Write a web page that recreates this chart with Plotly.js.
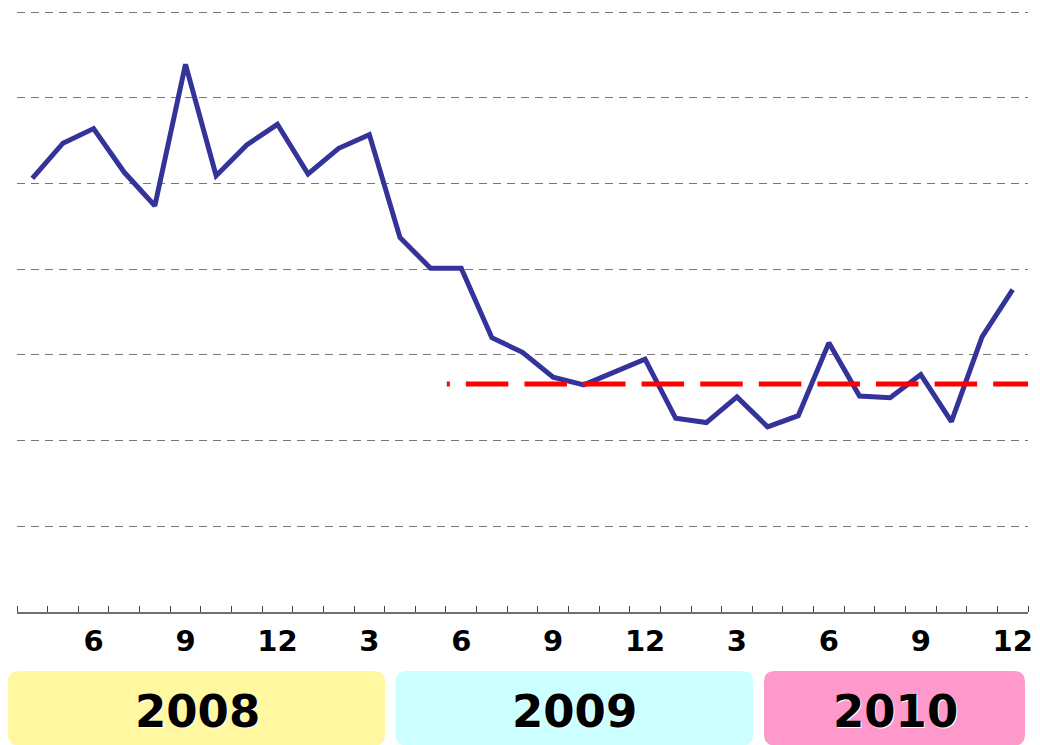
<!DOCTYPE html>
<html>
<head>
<meta charset="utf-8">
<script src="https://cdn.plot.ly/plotly-3.0.1.min.js"></script>
<style>
  html, body { margin: 0; padding: 0; background: #ffffff; }
  #chart { width: 1040px; height: 745px; }
</style>
</head>
<body>
<div id="chart"></div>
<script>
// Months from April 2008 to December 2010 (index 0 = 2008-04)
var monthIndex = [0,1,2,3,4,5,6,7,8,9,10,11,12,13,14,15,16,17,18,19,20,21,22,23,24,25,26,27,28,29,30,31,32];
var monthLabels = ["2008-04","2008-05","2008-06","2008-07","2008-08","2008-09","2008-10","2008-11","2008-12",
                   "2009-01","2009-02","2009-03","2009-04","2009-05","2009-06","2009-07","2009-08","2009-09","2009-10","2009-11","2009-12",
                   "2010-01","2010-02","2010-03","2010-04","2010-05","2010-06","2010-07","2010-08","2010-09","2010-10","2010-11","2010-12"];
var seriesValues = [5.06,5.47,5.64,5.13,4.74,6.39,5.09,5.45,5.69,
                    5.11,5.41,5.57,4.37,4.01,4.01,3.20,3.03,2.74,2.65,2.80,2.95,
                    2.26,2.21,2.51,2.16,2.29,3.14,2.52,2.50,2.77,2.22,3.21,3.76];

// Reference (average) line
var refLineX = [13.53, 32.76];
var refLineY = [2.66, 2.66];

// Tick labels (month numbers)
var tickPositions = [2,5,8,11,14,17,20,23,26,29,32];
var tickLabels = ["6","9","12","3","6","9","12","3","6","9","12"];

// Grid levels
var gridLevels = [1,2,3,4,5,6,7];

// Year bands
var yearNames = ["2008","2009","2010"];
var yearColors = ["#FFF8A0","#CCFFFF","#FF99CC"];

// ---- layout geometry (pixels) ----
var W = 1040, H = 745;
var mL = 17, mR = 12, mT = 3, mB = 133;
var plotW = W - mL - mR, plotH = H - mT - mB;
var pxPerUnit = 85.71;
function px2x(p){ return (p - mL) / plotW; }
function px2y(p){ return (H - mB - p) / plotH; }

var yearBoxes = [[8,671,385,745.5],[395.5,671,753,745.5],[764,671,1025,745.5]];
var yearTextX = [197, 574, 895];
var yearTextY = 711;

function roundedRectPath(b, r){
  var x0=b[0], y0=b[1], x1=b[2], y1=b[3];
  var pts = [
    ['M', x0 + r, y0],
    ['L', x1 - r, y0],
    ['Q', x1, y0, x1, y0 + r],
    ['L', x1, y1 - r],
    ['Q', x1, y1, x1 - r, y1],
    ['L', x0 + r, y1],
    ['Q', x0, y1, x0, y1 - r],
    ['L', x0, y0 + r],
    ['Q', x0, y0, x0 + r, y0]
  ];
  var s = '';
  pts.forEach(function(p){
    s += p[0];
    for (var i = 1; i < p.length; i += 2) {
      s += ' ' + px2x(p[i]).toFixed(5) + ',' + px2y(p[i+1]).toFixed(5) + ' ';
    }
  });
  return s + 'Z';
}

var shapes = yearBoxes.map(function(b, i){
  return {
    type: 'path', xref: 'paper', yref: 'paper',
    path: roundedRectPath(b, 11),
    fillcolor: yearColors[i],
    line: { width: 0 },
    layer: 'below'
  };
});

var annotations = yearNames.map(function(name, i){
  return {
    xref: 'paper', yref: 'paper',
    x: px2x(yearTextX[i]), y: px2y(yearTextY),
    xanchor: 'center', yanchor: 'middle',
    text: name, showarrow: false,
    font: { family: 'DejaVu Sans', size: 45, color: '#000000', weight: 'bold', shadow: '1px 1px 0px #ffffff' }
  };
});

var refDash = '3px,16px,' + new Array(12).fill('42.5px,16.1px').join(',');

var traces = [
  {
    x: monthIndex, y: seriesValues, text: monthLabels,
    type: 'scatter', mode: 'lines',
    line: { color: '#333399', width: 5, shape: 'linear' },
    hoverinfo: 'text+y'
  },
  {
    x: refLineX, y: refLineY,
    type: 'scatter', mode: 'lines',
    line: { color: '#FF0000', width: 5, dash: refDash },
    cliponaxis: false,
    hoverinfo: 'skip'
  }
];

var layout = {
  width: W, height: H,
  margin: { l: mL, r: mR, t: mT, b: mB, pad: 0 },
  paper_bgcolor: '#ffffff', plot_bgcolor: '#ffffff',
  showlegend: false,
  xaxis: {
    range: [-0.5, 32.5],
    tickmode: 'array', tickvals: tickPositions, ticktext: tickLabels,
    ticks: '', showgrid: false, zeroline: false,
    showline: true, linecolor: '#707070', linewidth: 2,
    ticklabelstandoff: 2,
    tickfont: { family: 'DejaVu Sans', size: 29, color: '#000000', weight: 'bold' },
    minor: { tickmode: 'linear', tick0: -0.5, dtick: 1, ticks: 'inside', ticklen: 6, tickwidth: 1, tickcolor: '#444444', showgrid: false },
    fixedrange: true
  },
  yaxis: {
    range: [0, plotH / pxPerUnit],
    tickmode: 'array', tickvals: gridLevels,
    showticklabels: false, ticks: '',
    showgrid: true, gridcolor: '#777777', gridwidth: 1, griddash: '8px,6px',
    zeroline: false, showline: false,
    fixedrange: true
  },
  shapes: shapes,
  annotations: annotations
};

Plotly.newPlot('chart', traces, layout, { displayModeBar: false, staticPlot: true });
</script>
</body>
</html>
